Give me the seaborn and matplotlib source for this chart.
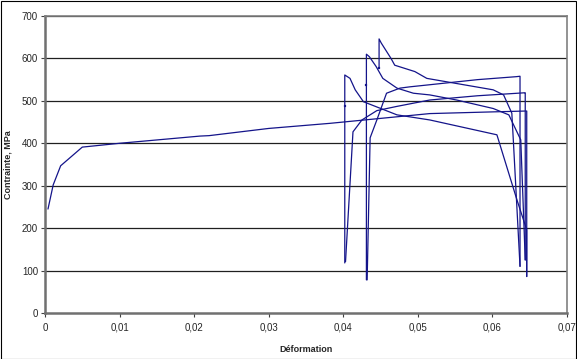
import matplotlib
matplotlib.use("Agg")
import matplotlib.pyplot as plt
import seaborn as sns
import pandas as pd
from matplotlib.patches import Rectangle

# main curve from origin
main_strain = [0.0004, 0.0011, 0.0021, 0.005, 0.010, 0.0208, 0.022, 0.030, 0.0382, 0.0516, 0.060, 0.0644, 0.0646, 0.0646]
main_stress = [245, 302, 347, 391, 400, 417, 418, 435, 447, 470, 474, 476, 476, 86]

# rising curves starting near 0.04
r1_strain = [0.0403, 0.0413, 0.0425, 0.0445, 0.0472, 0.0516, 0.058, 0.0643, 0.0644, 0.0644]
r1_stress = [121, 427, 455, 477, 487, 502, 512, 519, 519, 125]
r2_strain = [0.0432, 0.0436, 0.0445, 0.0458, 0.0476, 0.0489, 0.0516, 0.058, 0.0632, 0.0637, 0.0637]
r2_stress = [78, 413, 455, 518, 530, 533, 538, 550, 557, 558, 110]

# descending curves
d1_strain = [0.0402, 0.0402, 0.0409, 0.0416, 0.0427, 0.0472, 0.0516, 0.0606, 0.0633, 0.0646, 0.0646]
d1_stress = [118, 561, 553, 526, 498, 467, 455, 420, 266, 196, 86]
d2_strain = [0.0431, 0.0431, 0.0435, 0.0444, 0.0453, 0.0472, 0.0494, 0.0516, 0.0552, 0.0601, 0.0622, 0.0638, 0.0644]
d2_stress = [78, 610, 604, 581, 553, 530, 518, 514, 502, 482, 467, 408, 125]
d3_strain = [0.0448, 0.0448, 0.0451, 0.0464, 0.0469, 0.0496, 0.0512, 0.0601, 0.0615, 0.0626, 0.0628, 0.0637]
d3_stress = [577, 646, 636, 600, 584, 569, 553, 526, 514, 471, 408, 110]

dot_strain = [0.0402, 0.0431, 0.0448]
dot_stress = [489, 537, 577]

x_ticks = [0, 0.01, 0.02, 0.03, 0.04, 0.05, 0.06, 0.07]
x_tick_labels = ["0", "0,01", "0,02", "0,03", "0,04", "0,05", "0,06", "0,07"]
y_ticks = [0, 100, 200, 300, 400, 500, 600, 700]

curves = {
    "main": (main_strain, main_stress),
    "r1": (r1_strain, r1_stress),
    "r2": (r2_strain, r2_stress),
    "d1": (d1_strain, d1_stress),
    "d2": (d2_strain, d2_stress),
    "d3": (d3_strain, d3_stress),
}
rows = []
for name, (xs, ys) in curves.items():
    for i, (a, b) in enumerate(zip(xs, ys)):
        rows.append({"curve": name, "order": i, "strain": a, "stress": b})
df = pd.DataFrame(rows)

sns.set_style("white")
plt.rcParams["font.family"] = ["Liberation Sans", "DejaVu Sans"]

navy = "#14148a"
fig = plt.figure(figsize=(5.77, 3.59), dpi=100)
ax = fig.add_axes([45 / 577, (359 - 313) / 359, 522 / 577, 297 / 359])

for y in y_ticks[1:]:
    ax.axhline(y, color="#202020", lw=0.9, zorder=1)

sns.lineplot(data=df, x="strain", y="stress", units="curve", estimator=None,
             sort=False, color=navy, lw=0.9, ax=ax, zorder=3)
sns.scatterplot(x=dot_strain, y=dot_stress, marker="s", s=3, color=navy,
                edgecolor=navy, ax=ax, zorder=4)

ax.set_xlim(0, 0.07)
ax.set_ylim(0, 700)
ax.set_xticks(x_ticks)
ax.set_xticklabels(x_tick_labels)
ax.set_yticks(y_ticks)
ax.tick_params(axis="both", direction="out", length=3, width=0.8,
               color="#404040", labelsize=7, pad=2, left=True, bottom=True)
ax.tick_params(axis="x", pad=4)

for side in ["left", "bottom"]:
    ax.spines[side].set_color("#707070")
    ax.spines[side].set_linewidth(1.8)
for side in ["right", "top"]:
    ax.spines[side].set_color("#808080")
    ax.spines[side].set_linewidth(1.2)

ax.set_xlabel("Déformation", fontsize=6.5, fontweight="bold")
ax.set_ylabel("Contrainte, MPa", fontsize=6.5, fontweight="bold")
ax.xaxis.set_label_coords((306 - 45) / 522, -(345 - 313) / 297)
ax.yaxis.set_label_coords(-(45 - 13) / 522, 0.5)

fig.add_artist(Rectangle((0.5 / 577, 0.5 / 359), 575.5 / 577, 357.5 / 359,
                         transform=fig.transFigure, fill=False,
                         edgecolor="black", lw=0.8))

fig.savefig("out.png", dpi=100)
